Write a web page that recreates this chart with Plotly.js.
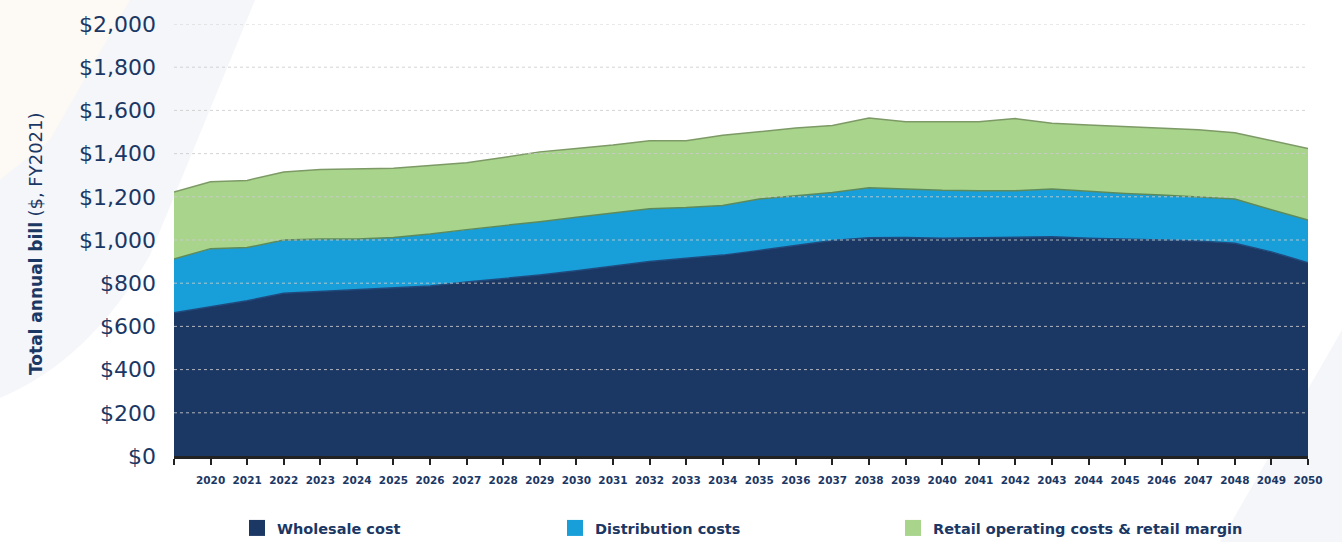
<!DOCTYPE html>
<html>
<head>
<meta charset="utf-8">
<script src="https://cdn.plot.ly/plotly-3.0.1.min.js"></script>
<style>html,body{margin:0;padding:0;background:#fff;}#chart{width:1342px;height:542px;}</style>
</head>
<body>
<div id="chart"></div>
<script>
// Years (fiscal)
const years = [2019,2020,2021,2022,2023,2024,2025,2026,2027,2028,2029,2030,2031,2032,2033,2034,2035,2036,2037,2038,2039,2040,2041,2042,2043,2044,2045,2046,2047,2048,2049,2050];
// Wholesale cost ($)
const wholesale = [663,691,719,753,761,768,776,787,805,820,838,858,880,900,915,930,952,975,998,1010,1012,1008,1010,1015,1015,1008,1005,1000,995,985,945,895];
// Distribution costs ($)
const distribution = [249,269,246,247,244,237,236,241,243,245,247,247,245,245,235,230,238,230,222,232,223,222,218,213,221,216,210,208,205,205,195,198];
// Retail operating costs & retail margin ($)
const retail = [310,310,311,315,321,325,320,317,310,317,323,319,315,315,310,325,312,313,310,323,313,318,320,334,304,308,310,310,310,307,320,331];

const seriesNames = ['Wholesale cost','Distribution costs','Retail operating costs & retail margin'];
const seriesColors = ['#1B3764','#189FD9','#A8D48C'];
const edgeColors = ['#1f4a7e','#5d8a5a','#7d9a66'];
const yTicks = [0,200,400,600,800,1000,1200,1400,1600,1800,2000];
const yTickText = ['$0','$200','$400','$600','$800','$1,000','$1,200','$1,400','$1,600','$1,800','$2,000'];
const xTickVals = years;
const xTickText = years.map((y,i)=> i===0 ? '' : String(y));

const values = [wholesale, distribution, retail];
const legendIds = ['legend','legend2','legend3'];
const traces = [];
values.forEach((v,i)=>{
  traces.push({
    x: years, y: v, type:'scatter', mode:'lines', stackgroup:'one',
    name: seriesNames[i], showlegend:false,
    fillcolor: seriesColors[i],
    line:{color: edgeColors[i], width: 1.5},
    hoverinfo:'skip'
  });
});
seriesNames.forEach((n,i)=>{
  traces.push({
    x:[null], y:[null], type:'scatter', mode:'markers', name:n, legend:legendIds[i],
    marker:{symbol:'square', size:19, color:seriesColors[i]},
    showlegend:true
  });
});

// plot area in pixels: left 174, right 1308, top 24, bottom 456
const L=174, R=1308, T=24, B=456;
const px = x => (x-L)/(R-L);
const py = y => (B-y)/(B-T);

const shapes = [];
// faint decorative background
shapes.push({type:'path', xref:'paper', yref:'paper', layer:'below',
  path:`M ${px(0)} ${py(0)} L ${px(255)} ${py(0)} L ${px(150)} ${py(255)} Q ${px(90)} ${py(360)} ${px(0)} ${py(398)} Z`,
  fillcolor:'#f5f6fa', line:{width:0}});
shapes.push({type:'path', xref:'paper', yref:'paper', layer:'below',
  path:`M ${px(0)} ${py(0)} L ${px(130)} ${py(0)} L ${px(50)} ${py(140)} L ${px(0)} ${py(180)} Z`,
  fillcolor:'#fdf9f4', line:{width:0}});
shapes.push({type:'path', xref:'paper', yref:'paper', layer:'below',
  path:`M ${px(1342)} ${py(330)} L ${px(1342)} ${py(542)} L ${px(1220)} ${py(542)} Z`,
  fillcolor:'#f5f6f9', line:{width:0}});
// dotted gridlines drawn over the areas
yTicks.slice(1).forEach(t=>{
  shapes.push({type:'line', xref:'paper', yref:'y', x0:0, x1:1, y0:t, y1:t, layer:'above',
    line:{color:'rgba(205,205,205,0.85)', width:1, dash:'dot'}});
});

const legendFont = {family:'DejaVu Sans, Verdana, sans-serif', size:14.5, weight:'bold', color:'#1B3764'};
const legendCenters = [257, 575, 913];
function mkLegend(c){
  return {orientation:'h', x:px(c-20), y:py(528), xanchor:'left', yanchor:'middle',
    font:legendFont, bgcolor:'rgba(0,0,0,0)', itemwidth:30};
}

const layout = {
  width:1342, height:542,
  margin:{l:L, r:1342-R, t:T, b:542-B, pad:0, autoexpand:false},
  paper_bgcolor:'rgba(0,0,0,0)', plot_bgcolor:'rgba(0,0,0,0)',
  font:{family:'DejaVu Sans, Verdana, sans-serif', color:'#1B3764'},
  xaxis:{
    range:[2019,2050], tickmode:'array', tickvals:xTickVals, ticktext:xTickText,
    showgrid:false, zeroline:false, showline:true, linecolor:'#222', linewidth:3,
    ticks:'outside', ticklen:6, tickwidth:2, tickcolor:'#222',
    tickfont:{family:'DejaVu Sans, Verdana, sans-serif', size:10.5, weight:'bold', color:'#1B3764'},
    ticklabelstandoff:6, fixedrange:true, automargin:false
  },
  yaxis:{
    range:[0,2000], tickmode:'array', tickvals:yTicks, ticktext:yTickText,
    showgrid:false, zeroline:false, showline:false, ticks:'',
    tickfont:{family:'DejaVu Sans, Verdana, sans-serif', size:22, color:'#1B3764'},
    ticklabelstandoff:17, fixedrange:true, automargin:false
  },
  showlegend:true,
  legend: mkLegend(legendCenters[0]),
  legend2: mkLegend(legendCenters[1]),
  legend3: mkLegend(legendCenters[2]),
  annotations:[{
    xref:'paper', yref:'paper', x:px(35), y:py(244), textangle:-90, showarrow:false,
    xanchor:'center', yanchor:'middle',
    text:'<b>Total annual bill</b> <span style="font-size:18px">($, FY2021)</span>',
    font:{family:'DejaVu Sans, Verdana, sans-serif', size:17, color:'#1B3764'}
  }],
  shapes: shapes
};

Plotly.newPlot('chart', traces, layout, {displayModeBar:false, staticPlot:true});
</script>
</body>
</html>
